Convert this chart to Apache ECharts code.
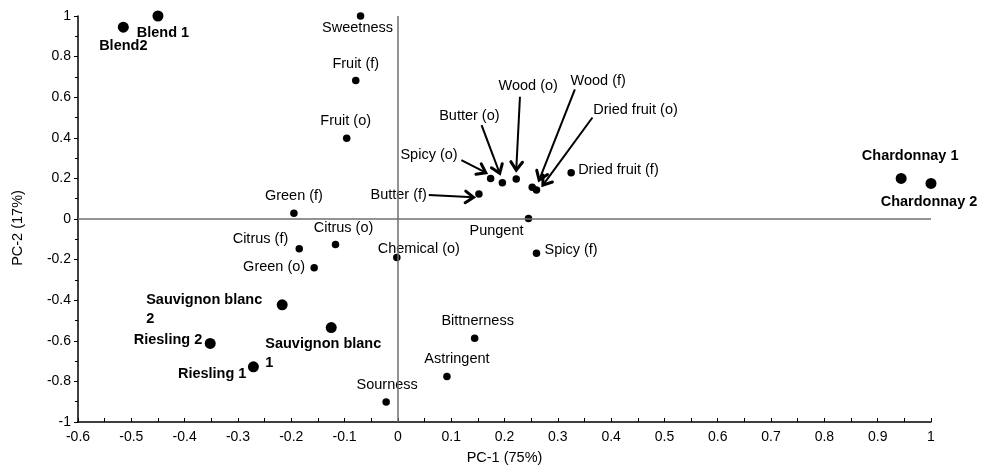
<!DOCTYPE html>
<html>
<head>
<meta charset="utf-8">
<script src="https://cdn.jsdelivr.net/npm/echarts@6/dist/echarts.min.js"></script>
<style>
  html, body { margin: 0; padding: 0; background: #fff; }
  #chart { width: 986px; height: 470px; }
</style>
</head>
<body>
<div id="chart"></div>
<script>
// PCA scores of the wines (bold) and loadings of the sensory attributes
const wineNames = ['Blend 1', 'Blend2', 'Chardonnay 1', 'Chardonnay 2',
  'Sauvignon blanc 2', 'Sauvignon blanc 1', 'Riesling 2', 'Riesling 1'];
const wineX = [-0.45, -0.515, 0.944, 1.0, -0.217, -0.125, -0.352, -0.271];
const wineY = [1.0, 0.945, 0.2, 0.175, -0.423, -0.535, -0.613, -0.728];

const attrNames = ['Sweetness', 'Fruit (f)', 'Fruit (o)', 'Green (f)', 'Citrus (f)',
  'Citrus (o)', 'Green (o)', 'Chemical (o)', 'Sourness', 'Spicy (o)', 'Butter (o)',
  'Wood (o)', 'Wood (f)', 'Dried fruit (o)', 'Dried fruit (f)', 'Butter (f)',
  'Pungent', 'Spicy (f)', 'Bittnerness', 'Astringent'];
const attrX = [-0.07, -0.079, -0.096, -0.195, -0.185, -0.117, -0.157, -0.002, -0.022,
  0.174, 0.196, 0.222, 0.252, 0.26, 0.325, 0.152, 0.245, 0.26, 0.144, 0.092];
const attrY = [1.0, 0.682, 0.398, 0.028, -0.146, -0.125, -0.24, -0.19, -0.901,
  0.2, 0.179, 0.197, 0.156, 0.143, 0.228, 0.123, 0.003, -0.169, -0.587, -0.776];

// pointer arrows from crowded labels to their points (start -> tip)
const arrowFromX = [0.119, 0.157, 0.229, 0.332, 0.365, 0.058];
const arrowFromY = [0.29, 0.462, 0.602, 0.638, 0.5, 0.118];
const arrowToX = [0.165, 0.191, 0.222, 0.265, 0.272, 0.142];
const arrowToY = [0.228, 0.225, 0.241, 0.192, 0.167, 0.107];

// axis ticks
const xMin = -0.6, xMax = 1, xStep = 0.1;
const yMin = -1, yMax = 1, yStep = 0.2;

// label placement: [dx, dy, align, wrapLastWord] relative to the point centre
const labelPlace = {
  'Blend 1': [5, 17, 'center'],
  'Blend2': [0, 19, 'center'],
  'Chardonnay 1': [9, -22, 'center'],
  'Chardonnay 2': [-2, 19, 'center'],
  'Sauvignon blanc 2': [-136, 5, 'left', true],
  'Sauvignon blanc 1': [-66, 26, 'left', true],
  'Riesling 2': [-8, -3, 'right'],
  'Riesling 1': [-7, 7, 'right'],
  'Sweetness': [-3, 12, 'center'],
  'Fruit (f)': [0, -17, 'center'],
  'Fruit (o)': [-1, -17, 'center'],
  'Green (f)': [0, -17, 'center'],
  'Citrus (f)': [-11, -10, 'right'],
  'Citrus (o)': [8, -16, 'center'],
  'Green (o)': [-9, -1, 'right'],
  'Chemical (o)': [22, -9, 'center'],
  'Sourness': [1, -17, 'center'],
  'Spicy (o)': [-33, -23, 'right'],
  'Butter (o)': [-33, -67, 'center'],
  'Wood (o)': [12, -93, 'center'],
  'Wood (f)': [66, -106, 'center'],
  'Dried fruit (o)': [99, -80, 'center'],
  'Dried fruit (f)': [7, -3, 'left'],
  'Butter (f)': [-52, 1, 'right'],
  'Pungent': [-32, 13, 'center'],
  'Spicy (f)': [8, -3, 'left'],
  'Bittnerness': [3, -17, 'center'],
  'Astringent': [10, -18, 'center']
};

const FONT = '"Liberation Sans", Arial, sans-serif';

function pointData(names, xs, ys, bold) {
  return names.map((n, i) => {
    const p = labelPlace[n] || [0, -15, 'center'];
    const text = p[3] ? n.replace(/ (\S+)$/, '\n$1') : n;
    return {
      name: n,
      value: [xs[i], ys[i]],
      label: {
        show: true,
        position: 'inside',
        offset: [p[0], p[1]],
        align: p[2],
        verticalAlign: 'middle',
        formatter: () => text,
        color: '#000',
        opacity: 1,
        fontFamily: FONT,
        fontSize: 14.5,
        fontWeight: bold ? 'bold' : 'normal',
        lineHeight: 19
      }
    };
  });
}

const arrowData = arrowFromX.map((x, i) => [x, arrowFromY[i], arrowToX[i], arrowToY[i]]);

function renderArrow(params, api) {
  const a = api.coord([api.value(0), api.value(1)]);
  const b = api.coord([api.value(2), api.value(3)]);
  const ang = Math.atan2(b[1] - a[1], b[0] - a[0]);
  const len = 10, spread = 0.62;
  const h1 = [b[0] - len * Math.cos(ang - spread), b[1] - len * Math.sin(ang - spread)];
  const h2 = [b[0] - len * Math.cos(ang + spread), b[1] - len * Math.sin(ang + spread)];
  return {
    type: 'group',
    children: [
      { type: 'line', shape: { x1: a[0], y1: a[1], x2: b[0], y2: b[1] },
        style: { stroke: '#000', lineWidth: 2, fill: null } },
      { type: 'polyline', shape: { points: [h1, b, h2] },
        style: { stroke: '#000', lineWidth: 3, fill: null, lineJoin: 'miter', lineCap: 'round' } }
    ]
  };
}

const chart = echarts.init(document.getElementById('chart'), null, { renderer: 'canvas' });

chart.setOption({
  animation: false,
  backgroundColor: '#fff',
  textStyle: { fontFamily: FONT },
  grid: { left: 78, right: 55, top: 16, bottom: 48, containLabel: false },
  xAxis: {
    type: 'value',
    min: xMin, max: xMax, interval: xStep,
    name: 'PC-1 (75%)',
    nameLocation: 'middle',
    nameGap: 28,
    nameTextStyle: { color: '#000', fontSize: 14.5, fontFamily: FONT },
    axisLine: { show: true, onZero: false, lineStyle: { color: '#000', width: 1.5 } },
    axisTick: { show: true, inside: true, length: 4, lineStyle: { color: '#000', width: 1 } },
    minorTick: { show: true, splitNumber: 2, length: 4, lineStyle: { color: '#000', width: 1 } },
    splitLine: { show: false },
    axisLabel: {
      color: '#000', fontSize: 14, fontFamily: FONT, margin: 8,
      formatter: v => String(Math.round(v * 10) / 10)
    }
  },
  yAxis: {
    type: 'value',
    min: yMin, max: yMax, interval: yStep,
    name: 'PC-2 (17%)',
    nameLocation: 'middle',
    nameGap: 53,
    nameTextStyle: { color: '#000', fontSize: 14.5, fontFamily: FONT, padding: [0, 18, 0, 0] },
    axisLine: { show: true, onZero: false, lineStyle: { color: '#000', width: 1.5 } },
    axisTick: { show: true, inside: false, length: 4, lineStyle: { color: '#000', width: 1 } },
    minorTick: { show: true, splitNumber: 2, length: 3, lineStyle: { color: '#000', width: 1 } },
    splitLine: { show: false },
    axisLabel: {
      color: '#000', fontSize: 14, fontFamily: FONT, margin: 7,
      formatter: v => String(Math.round(v * 10) / 10)
    }
  },
  series: [
    {
      name: 'Attributes',
      type: 'scatter',
      symbol: 'circle',
      symbolSize: 7.5,
      itemStyle: { color: '#000', opacity: 1 },
      data: pointData(attrNames, attrX, attrY, false),
      markLine: {
        silent: true,
        symbol: 'none',
        label: { show: false },
        lineStyle: { color: '#6f6f6f', width: 1.5, type: 'solid', opacity: 1 },
        data: [{ xAxis: 0 }, { yAxis: 0 }]
      },
      z: 3
    },
    {
      name: 'Wines',
      type: 'scatter',
      symbol: 'circle',
      symbolSize: 11,
      itemStyle: { color: '#000', opacity: 1 },
      data: pointData(wineNames, wineX, wineY, true),
      z: 3
    },
    {
      name: 'Arrows',
      type: 'custom',
      renderItem: renderArrow,
      encode: { x: [0, 2], y: [1, 3] },
      data: arrowData,
      silent: true,
      z: 4
    }
  ]
});
</script>
</body>
</html>
